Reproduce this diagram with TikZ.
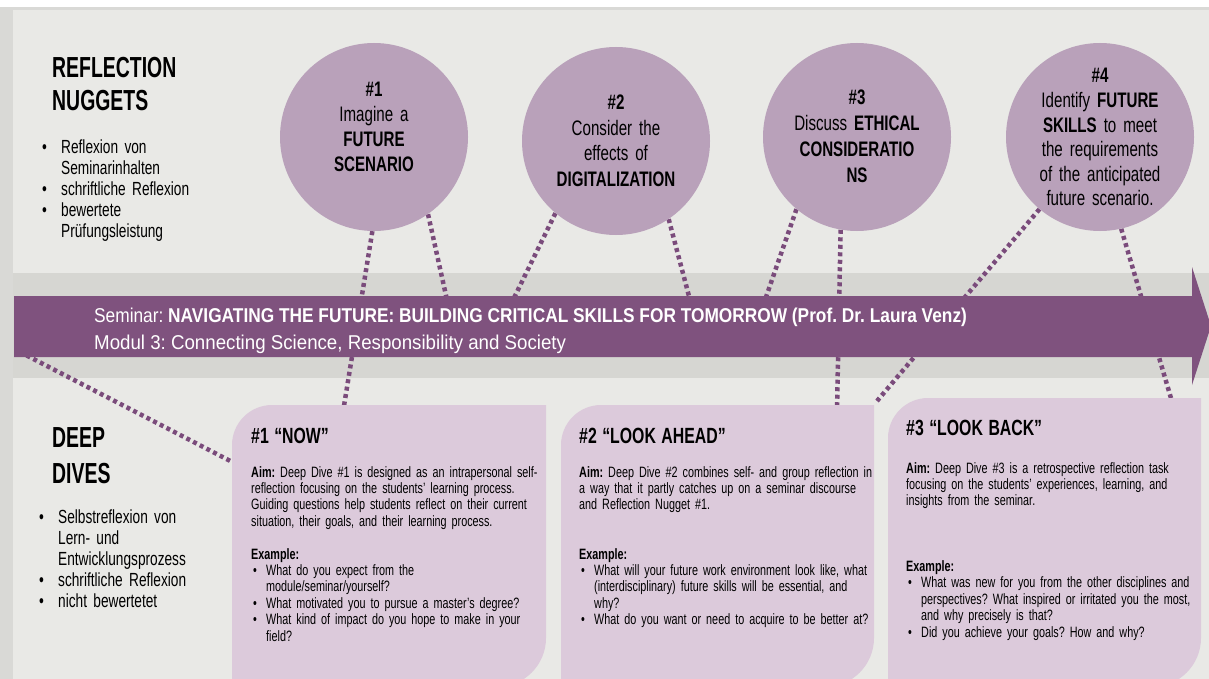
\documentclass[tikz,border=0pt]{standalone}
\usepackage{fontspec}
\setmainfont[FakeStretch=0.72]{Liberation Sans}
\newfontfamily\headfont[FakeStretch=0.67]{Liberation Sans}
\newfontfamily\titlefont[FakeStretch=0.865]{Liberation Sans}
\newfontfamily\modfont[FakeStretch=0.935]{Liberation Sans}
\frenchspacing
\newcommand\sps{\spaceskip=0.21em plus 0.05em minus 0.02em\relax}
\newcommand\spt{\spaceskip=0.25em plus 0.05em minus 0.02em\relax}
\definecolor{panel}{HTML}{E9E9E6}
\definecolor{frame}{HTML}{D9D9D6}
\definecolor{band}{HTML}{D6D6D2}
\definecolor{circ}{HTML}{B9A1BA}
\definecolor{boxc}{HTML}{DCCADB}
\definecolor{arrowc}{HTML}{7F527E}
\definecolor{dotc}{HTML}{7A4B7B}
\newcommand\bitem{\makebox[15pt][l]{\hspace{2pt}\textbullet}}
\newcommand\bcont{\hspace*{15pt}}
\newcommand\litem{\makebox[19pt][l]{\textbullet}}
\newcommand\lcont{\hspace*{19pt}}
\pgfdeclarelayer{back}
\pgfdeclarelayer{lines}
\pgfsetlayers{back,lines,main}
\begin{document}
\begin{tikzpicture}[x=1pt,y=-1pt,
  dotline/.style={draw=dotc,line width=4.5pt,dash pattern=on 4pt off 3.5pt},
  nug/.style={circle,fill=circ,minimum size=188pt,inner sep=0pt},
  ctext/.style={anchor=base,align=center,text width=180pt,inner sep=0pt},
  btitle/.style={anchor=base west,inner sep=0pt,font=\bfseries\fontsize{22}{26}\selectfont\spt},
  btext/.style={anchor=base west,inner sep=0pt,align=left,text width=330pt,font=\fontsize{15}{16.4}\selectfont\sps},
  head/.style={anchor=base west,inner sep=0pt,align=left,text width=200pt},
  ltext/.style={anchor=base west,inner sep=0pt,align=left,text width=200pt},
  boxshape/.style={fill=boxc}
]
\useasboundingbox (0,0) rectangle (1209,679);
\clip (0,0) rectangle (1209,679);

% background
\begin{pgfonlayer}{back}
\fill[white] (0,0) rectangle (1209,679);
\fill[frame] (0,7) rectangle (1209,679);
\fill[panel] (13,10) rectangle (1209,679);
\fill[band] (13,273) rectangle (1209,378);
\end{pgfonlayer}

% reflection nuggets (circles)
\node[nug] (c1) at (374,137) {};
\node[nug] (c2) at (616,141) {};
\node[nug] (c3) at (857,137) {};
\node[nug] (c4) at (1100,137) {};

% connector end points
\coordinate (b1t) at (343,412);
\coordinate (a1) at (447,300);
\coordinate (a2) at (513,300);
\coordinate (a3) at (690,300);
\coordinate (a4) at (765,300);
\coordinate (b2t) at (837,410);
\coordinate (b23) at (877,401);
\coordinate (b3t) at (1173,405);
\coordinate (tail) at (20,352);
\coordinate (b1l) at (240,466);

\begin{pgfonlayer}{lines}
\draw[dotline] (c1.-91) -- (b1t);
\draw[dotline] (c1.-55) -- (a1);
\draw[dotline] (c2.-130) -- (a2);
\draw[dotline] (c2.-56) -- (a3);
\draw[dotline] (c3.-130) -- (a4);
\draw[dotline] (c3.-100) -- (b2t);
\draw[dotline] (c4.-130) -- (b23);
\draw[dotline] (c4.-77) -- (b3t);
\draw[dotline] (tail) -- (b1l);
\end{pgfonlayer}

% seminar arrow
\fill[arrowc] (14,296) -- (1192,296) -- (1192,267) -- (1211,326) -- (1192,385) -- (1192,357) -- (14,357) -- cycle;
\node[anchor=base west,inner sep=0pt,text=white,font=\titlefont\fontsize{20}{24}\selectfont] (sem) at (94,322)
  {Seminar: \textbf{NAVIGATING THE FUTURE: BUILDING CRITICAL SKILLS FOR TOMORROW (Prof. Dr. Laura Venz)}};
\node[anchor=base west,inner sep=0pt,text=white,font=\modfont\fontsize{20}{24}\selectfont] (mod) at (94,349)
  {Modul 3: Connecting Science, Responsibility and Society};

% deep dive boxes
\fill[boxshape] (232,690) -- (232,445) .. controls (232,423) and (250,405) .. (272,405) -- (546,405) -- (546,638) .. controls (546,665) and (524,687) .. (497,687) -- (232,690) -- cycle;
\fill[boxshape] (561,690) -- (561,445) .. controls (561,423) and (579,405) .. (601,405) -- (874,405) -- (874,638) .. controls (874,665) and (852,687) .. (825,687) -- (561,690) -- cycle;
\fill[boxshape] (888,690) -- (888,438) .. controls (888,416) and (906,398) .. (928,398) -- (1201,398) -- (1201,638) .. controls (1201,665) and (1179,687) .. (1152,687) -- (888,690) -- cycle;

% circle texts
\node[ctext,font=\fontsize{21}{25}\selectfont\sps] (t1) at (374,97)
  {\textbf{\#1}\\Imagine a\\\textbf{FUTURE}\\\textbf{SCENARIO}};
\node[ctext,font=\fontsize{21}{25.5}\selectfont\sps] (t2) at (616,110)
  {\textbf{\#2}\\Consider the\\effects of\\\textbf{DIGITALIZATION}};
\node[ctext,font=\fontsize{21}{26}\selectfont\sps] (t3) at (857,105)
  {\textbf{\#3}\\Discuss \textbf{ETHICAL}\\\textbf{CONSIDERATIO}\\\textbf{NS}};
\node[ctext,font=\fontsize{21}{24.6}\selectfont\sps] (t4) at (1100,83)
  {\textbf{\#4}\\Identify \textbf{FUTURE}\\\textbf{SKILLS} to meet\\the requirements\\of the anticipated\\future scenario.};

% left column
\node[head,font=\headfont\bfseries\fontsize{29}{33}\selectfont] (hRN) at (52,78) {REFLECTION\\NUGGETS};
\node[ltext,font=\fontsize{19}{20.75}\selectfont\sps] (lRN) at (42,154)
  {\litem Reflexion von\\\lcont Seminarinhalten\\\litem schriftliche Reflexion\\\litem bewertete\\\lcont Prüfungsleistung};
\node[head,font=\headfont\bfseries\fontsize{29}{36}\selectfont] (hDD) at (52,447) {DEEP\\DIVES};
\node[ltext,font=\fontsize{19}{21}\selectfont\sps] (lDD) at (39,523)
  {\litem Selbstreflexion von\\\lcont Lern- und\\\lcont Entwicklungsprozess\\\litem schriftliche Reflexion\\\litem nicht bewertetet};

% box texts
\node[btitle] (d1h) at (251,443) {\#1 “NOW”};
\node[btext] (d1) at (251,477)
  {\textbf{Aim:} Deep Dive \#1 is designed as an intrapersonal self-\\
   reflection focusing on the students' learning process.\\
   Guiding questions help students reflect on their current\\
   situation, their goals, and their learning process.\\[16.4pt]
   \textbf{Example:}\\
   \bitem What do you expect from the\\
   \bcont module/seminar/yourself?\\
   \bitem What motivated you to pursue a master's degree?\\
   \bitem What kind of impact do you hope to make in your\\
   \bcont field?};
\node[btitle] (d2h) at (579,443) {\#2 “LOOK AHEAD”};
\node[btext] (d2) at (579,477)
  {\textbf{Aim:} Deep Dive \#2 combines self- and group reflection in\\
   a way that it partly catches up on a seminar discourse\\
   and Reflection Nugget \#1.\\[32.8pt]
   \textbf{Example:}\\
   \bitem What will your future work environment look like, what\\
   \bcont (interdisciplinary) future skills will be essential, and\\
   \bcont why?\\
   \bitem What do you want or need to acquire to be better at?};
\node[btitle] (d3h) at (906,435) {\#3 “LOOK BACK”};
\node[btext] (d3) at (906,473)
  {\textbf{Aim:} Deep Dive \#3 is a retrospective reflection task\\
   focusing on the students' experiences, learning, and\\
   insights from the seminar.\\[49.2pt]
   \textbf{Example:}\\
   \bitem What was new for you from the other disciplines and\\
   \bcont perspectives? What inspired or irritated you the most,\\
   \bcont and why precisely is that?\\
   \bitem Did you achieve your goals? How and why?};
\end{tikzpicture}
\end{document}
